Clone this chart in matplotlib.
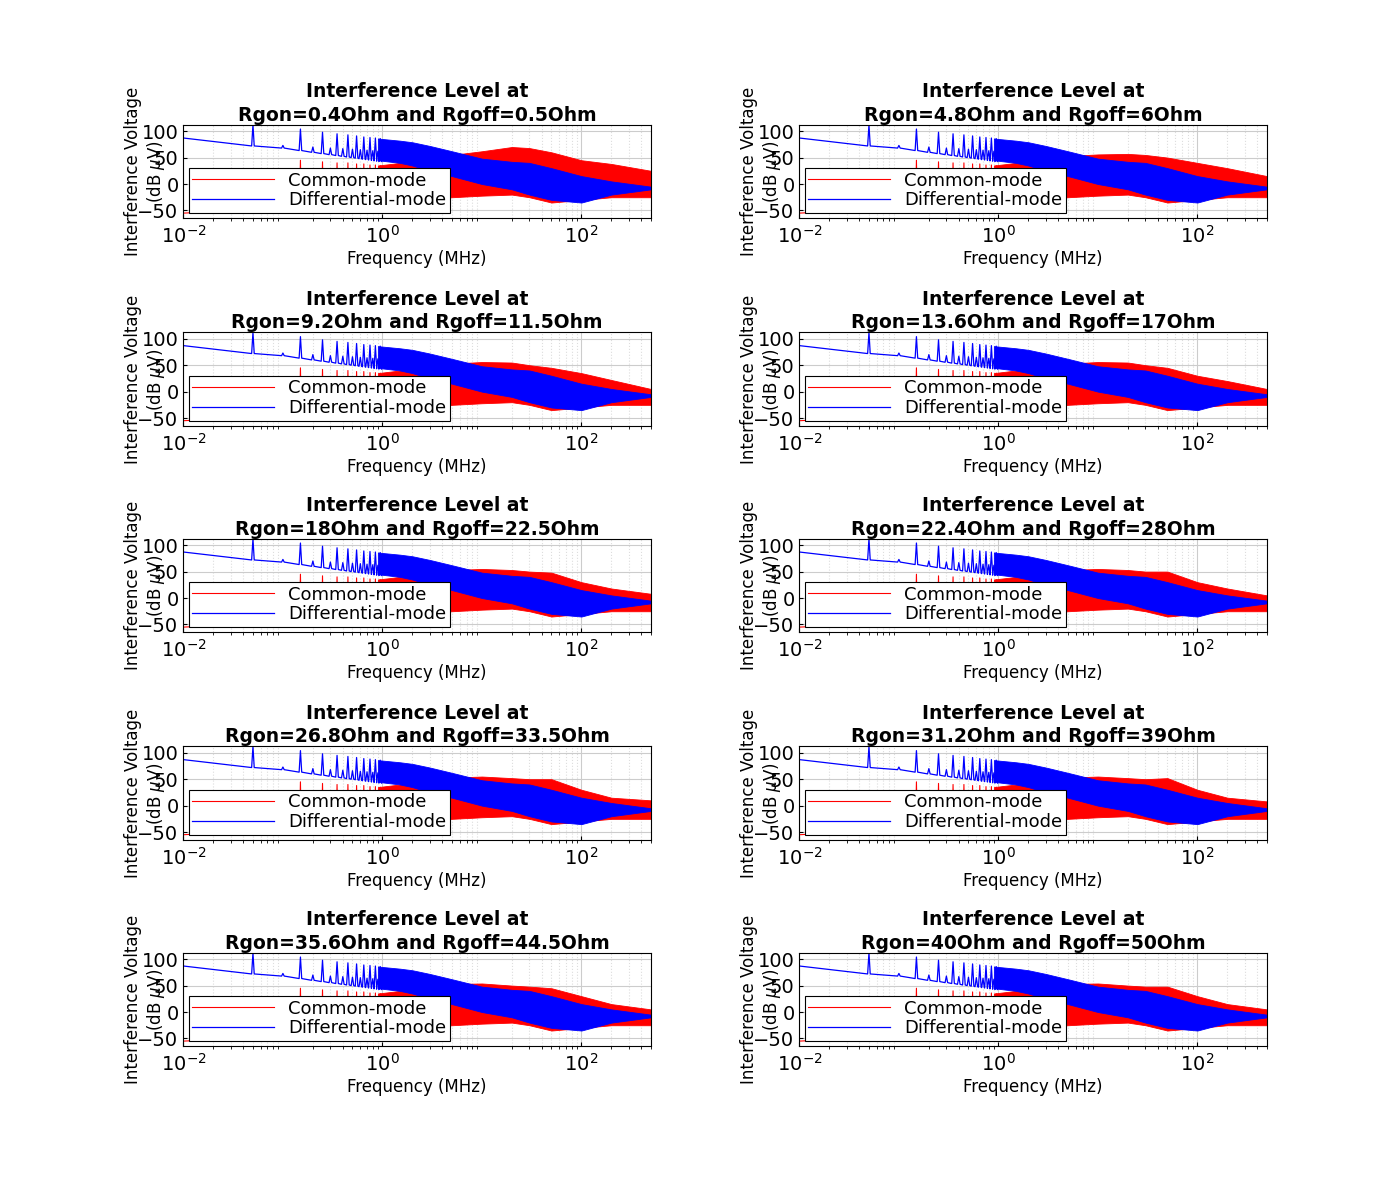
import numpy as np
import matplotlib.pyplot as plt

# panel resistances
rgon = ['0.4', '4.8', '9.2', '13.6', '18', '22.4', '26.8', '31.2', '35.6', '40']
rgoff = ['0.5', '6', '11.5', '17', '22.5', '28', '33.5', '39', '44.5', '50']

# frequency nodes for the band envelopes (MHz)
f_band = [0.9, 1.5, 2, 3, 5, 10, 20, 30, 50, 100, 200, 500]

# DM low-frequency baseline and harmonic peaks
f_base = [0.01, 0.05, 0.1, 0.2, 0.5, 1.0]
dm_base = [87, 72, 68, 60, 50, 42]
f_harm = [0.05, 0.1, 0.15, 0.2, 0.25, 0.3, 0.35, 0.4, 0.45, 0.5,
          0.55, 0.6, 0.65, 0.7, 0.75, 0.8, 0.85, 0.9, 0.95]
dm_harm = [112, 73, 104, 70, 98, 68, 95, 67, 93, 66,
           91, 65, 89, 64, 88, 63, 87, 62, 86]

# CM low-frequency harmonic peaks (partly behind the legend)
cm_harm = [-40, -40, 45, -40, 42, -40, 40, -40, 40, -40,
           38, -40, 38, -40, 36, -40, 36, -40, 35]

# DM band envelope
dm_upper = [86, 82, 79, 72, 62, 48, 42, 40, 30, 15, 5, -5]
dm_lower = [45, 40, 35, 25, 15, 0, -10, -20, -30, -35, -20, -10]

# CM band envelope, per panel upper edge
cm_lower = [-30, -30, -30, -28, -25, -22, -20, -25, -35, -30, -25, -25]
cm_upper = [
    [35, 40, 45, 50, 55, 62, 70, 68, 60, 45, 38, 25],
    [35, 40, 45, 50, 53, 56, 57, 55, 50, 40, 30, 15],
    [35, 40, 45, 50, 53, 56, 55, 50, 45, 35, 22, 5],
    [35, 40, 45, 50, 53, 56, 55, 50, 45, 30, 20, 5],
    [35, 40, 45, 50, 53, 55, 53, 50, 48, 30, 18, 8],
    [35, 40, 45, 50, 53, 55, 53, 50, 50, 30, 18, 5],
    [35, 40, 45, 50, 53, 55, 52, 50, 50, 30, 15, 10],
    [35, 40, 45, 50, 53, 55, 52, 50, 52, 30, 15, 8],
    [35, 40, 45, 50, 53, 54, 50, 48, 45, 30, 15, 5],
    [35, 40, 45, 50, 53, 54, 50, 48, 48, 30, 15, 5],
]

fig = plt.figure(figsize=(14, 12), dpi=100)
plt.rcParams['font.family'] = ['DejaVu Sans']

lefts = [0.131, 0.571]
bottoms = [0.818, 0.645, 0.473, 0.300, 0.128]

for i in range(10):
    r, c = divmod(i, 2)
    ax = fig.add_axes([lefts[c], bottoms[r], 0.334, 0.078])
    ax.set_axisbelow(True)
    # CM: low-frequency line with harmonics, then band
    xs, ys = [0.01, 0.14], [-55, -45]
    for fh, ph in zip(f_harm[2:], cm_harm[2:]):
        xs += [fh * 0.98, fh, fh * 1.02]
        ys += [-35, ph, -35]
    ax.plot(xs, ys, color='red', lw=0.8, label='Common-mode')
    ax.fill_between(f_band, cm_lower, cm_upper[i], color='red', lw=0.6)
    # DM spikes + band
    xs, ys = [f_base[0]], [dm_base[0]]
    for fh, ph in zip(f_harm, dm_harm):
        b = np.interp(np.log10(fh), np.log10(f_base), dm_base)
        xs += [fh * 0.97, fh, fh * 1.03]
        ys += [b, ph, b]
    ax.plot(xs, ys, color='blue', lw=0.9, label='Differential-mode')
    ax.fill_between(f_band, dm_lower, dm_upper, color='blue', lw=0.6)
    ax.set_xscale('log')
    ax.set_xlim(0.01, 500)
    ax.set_ylim(-65, 112)
    ax.set_yticks([-50, 0, 50, 100])
    ax.set_xticks([0.01, 1, 100])
    ax.set_xticklabels(['$10^{-2}$', '$10^{0}$', '$10^{2}$'])
    ax.tick_params(labelsize=14, direction='in', length=3)
    ax.tick_params(axis='x', pad=5)
    ax.grid(True, which='major', color='#cccccc', lw=0.8)
    ax.grid(True, which='minor', color='#dddddd', ls=':', lw=0.8)
    ax.set_title('Interference Level at\nRgon=%sOhm and Rgoff=%sOhm' % (rgon[i], rgoff[i]),
                 fontsize=13.5, fontweight='bold', pad=2, linespacing=1.3)
    ax.set_xlabel('Frequency (MHz)', fontsize=12, labelpad=2)
    ax.set_ylabel('Interference Voltage\n(dB $\\mu$V)', fontsize=12)
    ax.yaxis.set_label_coords(-0.035, 0.5)
    leg = ax.legend(loc='lower left', fontsize=13, fancybox=False, framealpha=1,
                    edgecolor='black', borderaxespad=0.3, handlelength=4.5,
                    borderpad=0.2, labelspacing=0.1)
    leg.get_frame().set_linewidth(0.8)

fig.savefig('out.png')
